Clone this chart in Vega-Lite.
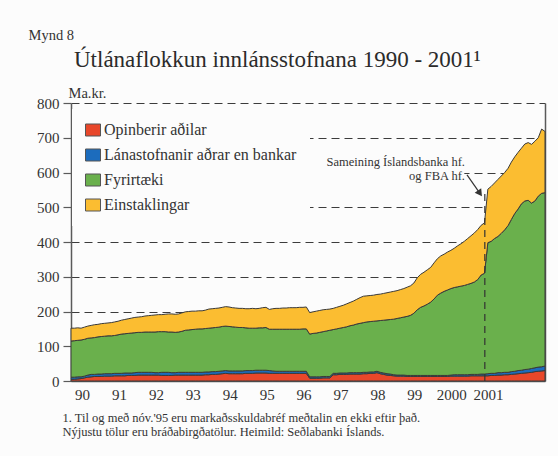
{
  "$schema": "https://vega.github.io/schema/vega-lite/v6.json",
  "width": 474,
  "height": 278,
  "autosize": {"type": "none"},
  "padding": {"left": 71, "top": 103, "right": 13, "bottom": 75},
  "background": "#fcfcfc",
  "config": {"view": {"stroke": null}, "font": "Liberation Serif"},
  "title": {
    "text": "Útlánaflokkun innlánsstofnana 1990 - 2001¹",
    "anchor": "start",
    "dx": 46,
    "offset": -45,
    "fontSize": 23,
    "font": "Liberation Serif",
    "fontWeight": "normal",
    "color": "#2b2b2b"
  },
  "datasets": {
    "d": [
      {"m":0,"o":5,"l":6,"f":104,"e":37},{"m":1,"o":5,"l":6,"f":105,"e":36},{"m":2,"o":6,"l":6,"f":105,"e":36},{"m":3,"o":7,"l":5,"f":106,"e":34},
      {"m":4,"o":9,"l":5,"f":106,"e":35},{"m":5,"o":11,"l":6,"f":106,"e":35},{"m":6,"o":12,"l":7,"f":105,"e":36},{"m":7,"o":13,"l":6,"f":106,"e":37},
      {"m":8,"o":13,"l":7,"f":107,"e":36},{"m":9,"o":13,"l":7,"f":108,"e":37},{"m":10,"o":14,"l":7,"f":108,"e":37},{"m":11,"o":14,"l":7,"f":109,"e":37},
      {"m":12,"o":14,"l":7,"f":109,"e":38},{"m":13,"o":15,"l":7,"f":109,"e":39},{"m":14,"o":15,"l":7,"f":111,"e":39},{"m":15,"o":15,"l":7,"f":113,"e":40},
      {"m":16,"o":15,"l":8,"f":113,"e":41},{"m":17,"o":16,"l":7,"f":114,"e":42},{"m":18,"o":16,"l":7,"f":115,"e":43},{"m":19,"o":16,"l":8,"f":115,"e":44},
      {"m":20,"o":17,"l":8,"f":115,"e":44},{"m":21,"o":17,"l":8,"f":115,"e":45},{"m":22,"o":17,"l":8,"f":116,"e":46},{"m":23,"o":17,"l":8,"f":116,"e":47},
      {"m":24,"o":17,"l":8,"f":116,"e":48},{"m":25,"o":17,"l":7,"f":117,"e":49},{"m":26,"o":17,"l":7,"f":118,"e":49},{"m":27,"o":16,"l":9,"f":117,"e":49},
      {"m":28,"o":16,"l":9,"f":117,"e":50},{"m":29,"o":16,"l":9,"f":116,"e":52},{"m":30,"o":16,"l":8,"f":117,"e":52},{"m":31,"o":17,"l":7,"f":116,"e":52},
      {"m":32,"o":17,"l":8,"f":116,"e":52},{"m":33,"o":17,"l":8,"f":118,"e":53},{"m":34,"o":17,"l":8,"f":121,"e":53},{"m":35,"o":17,"l":8,"f":122,"e":53},
      {"m":36,"o":17,"l":8,"f":123,"e":53},{"m":37,"o":17,"l":8,"f":124,"e":52},{"m":38,"o":17,"l":8,"f":125,"e":52},{"m":39,"o":17,"l":8,"f":125,"e":52},
      {"m":40,"o":18,"l":8,"f":125,"e":53},{"m":41,"o":18,"l":8,"f":126,"e":55},{"m":42,"o":19,"l":8,"f":126,"e":55},{"m":43,"o":19,"l":8,"f":127,"e":55},
      {"m":44,"o":20,"l":8,"f":127,"e":55},{"m":45,"o":21,"l":8,"f":128,"e":55},{"m":46,"o":22,"l":8,"f":128,"e":56},{"m":47,"o":21,"l":8,"f":128,"e":56},
      {"m":48,"o":21,"l":8,"f":127,"e":55},{"m":49,"o":21,"l":8,"f":126,"e":55},{"m":50,"o":21,"l":8,"f":125,"e":55},{"m":51,"o":21,"l":8,"f":125,"e":55},
      {"m":52,"o":22,"l":8,"f":123,"e":55},{"m":53,"o":22,"l":8,"f":122,"e":56},{"m":54,"o":22,"l":8,"f":122,"e":57},{"m":55,"o":23,"l":8,"f":121,"e":56},
      {"m":56,"o":23,"l":8,"f":122,"e":56},{"m":57,"o":23,"l":8,"f":122,"e":58},{"m":58,"o":23,"l":8,"f":123,"e":58},{"m":59,"o":22,"l":8,"f":119,"e":57},
      {"m":60,"o":22,"l":7,"f":120,"e":59},{"m":61,"o":22,"l":6,"f":121,"e":60},{"m":62,"o":22,"l":6,"f":121,"e":60},{"m":63,"o":22,"l":6,"f":121,"e":61},
      {"m":64,"o":22,"l":6,"f":121,"e":61},{"m":65,"o":22,"l":6,"f":121,"e":62},{"m":66,"o":22,"l":6,"f":121,"e":62},{"m":67,"o":22,"l":6,"f":121,"e":62},
      {"m":68,"o":22,"l":6,"f":121,"e":63},{"m":69,"o":22,"l":6,"f":122,"e":62},{"m":70,"o":22,"l":6,"f":122,"e":63},{"m":71,"o":8,"l":4,"f":123,"e":62},
      {"m":72,"o":8,"l":4,"f":125,"e":62},{"m":73,"o":8,"l":4,"f":126,"e":63},{"m":74,"o":8,"l":4,"f":128,"e":63},{"m":75,"o":9,"l":4,"f":129,"e":63},
      {"m":76,"o":9,"l":4,"f":131,"e":62},{"m":77,"o":9,"l":4,"f":133,"e":61},{"m":78,"o":18,"l":4,"f":126,"e":61},{"m":79,"o":18,"l":4,"f":128,"e":62},
      {"m":80,"o":19,"l":4,"f":129,"e":63},{"m":81,"o":19,"l":4,"f":131,"e":64},{"m":82,"o":19,"l":4,"f":133,"e":66},{"m":83,"o":20,"l":4,"f":135,"e":67},
      {"m":84,"o":20,"l":4,"f":137,"e":69},{"m":85,"o":20,"l":4,"f":140,"e":71},{"m":86,"o":20,"l":4,"f":142,"e":74},{"m":87,"o":21,"l":4,"f":143,"e":76},
      {"m":88,"o":21,"l":4,"f":145,"e":75},{"m":89,"o":22,"l":4,"f":145,"e":75},{"m":90,"o":22,"l":4,"f":146,"e":75},{"m":91,"o":24,"l":4,"f":145,"e":76},
      {"m":92,"o":21,"l":4,"f":149,"e":76},{"m":93,"o":19,"l":4,"f":152,"e":77},{"m":94,"o":17,"l":4,"f":155,"e":78},{"m":95,"o":16,"l":4,"f":157,"e":79},
      {"m":96,"o":15,"l":3,"f":160,"e":80},{"m":97,"o":14,"l":3,"f":163,"e":80},{"m":98,"o":14,"l":3,"f":165,"e":81},{"m":99,"o":14,"l":3,"f":167,"e":82},
      {"m":100,"o":13,"l":3,"f":170,"e":84},{"m":101,"o":13,"l":3,"f":173,"e":85},{"m":102,"o":13,"l":3,"f":179,"e":87},{"m":103,"o":13,"l":3,"f":189,"e":92},
      {"m":104,"o":13,"l":3,"f":196,"e":95},{"m":105,"o":13,"l":3,"f":200,"e":97},{"m":106,"o":13,"l":3,"f":205,"e":99},{"m":107,"o":13,"l":3,"f":211,"e":100},
      {"m":108,"o":13,"l":3,"f":220,"e":104},{"m":109,"o":13,"l":3,"f":231,"e":105},{"m":110,"o":13,"l":3,"f":237,"e":107},{"m":111,"o":13,"l":3,"f":242,"e":107},
      {"m":112,"o":13,"l":3,"f":246,"e":109},{"m":113,"o":14,"l":3,"f":249,"e":110},{"m":114,"o":14,"l":4,"f":251,"e":113},{"m":115,"o":14,"l":4,"f":253,"e":118},
      {"m":116,"o":14,"l":4,"f":255,"e":122},{"m":117,"o":14,"l":4,"f":257,"e":127},{"m":118,"o":14,"l":4,"f":260,"e":132},{"m":119,"o":15,"l":4,"f":262,"e":137},
      {"m":120,"o":15,"l":4,"f":266,"e":141},{"m":121,"o":15,"l":4,"f":273,"e":144},{"m":122,"o":15,"l":5,"f":285,"e":143},{"m":123,"o":15,"l":5,"f":290,"e":145},
      {"m":124,"o":15,"l":6,"f":377,"e":154},{"m":125,"o":16,"l":6,"f":380,"e":158},{"m":126,"o":16,"l":6,"f":388,"e":160},{"m":127,"o":17,"l":7,"f":392,"e":164},
      {"m":128,"o":17,"l":7,"f":401,"e":165},{"m":129,"o":18,"l":7,"f":410,"e":165},{"m":130,"o":18,"l":7,"f":422,"e":165},{"m":131,"o":19,"l":8,"f":438,"e":165},
      {"m":132,"o":20,"l":8,"f":454,"e":163},{"m":133,"o":21,"l":9,"f":465,"e":163},{"m":134,"o":22,"l":9,"f":479,"e":160},{"m":135,"o":23,"l":10,"f":485,"e":164},
      {"m":136,"o":24,"l":10,"f":486,"e":166},{"m":137,"o":25,"l":11,"f":476,"e":169},{"m":138,"o":27,"l":11,"f":480,"e":172},{"m":139,"o":28,"l":12,"f":492,"e":168},
      {"m":140,"o":29,"l":12,"f":499,"e":185},{"m":141,"o":30,"l":13,"f":499,"e":176}
    ],
    "one": [{}]
  },
  "layer": [
    {
      "data": {"name": "d"},
      "transform": [{"fold": ["o", "l", "f", "e"], "as": ["s", "v"]}],
      "mark": {"type": "area", "stroke": "#3a3a3a", "strokeWidth": 1, "strokeJoin": "round"},
      "encoding": {
        "x": {
          "field": "m", "type": "quantitative",
          "scale": {"domain": [0, 141], "nice": false, "zero": false},
          "axis": {
            "values": [3.3, 14.28, 25.26, 36.24, 47.22, 58.2, 69.18, 80.16, 91.14, 102.12, 113.1, 124.08],
            "labelExpr": "['90','91','92','93','94','95','96','97','98','99','2000','2001'][round((datum.value-3.3)/10.98)]",
            "ticks": false, "grid": false, "labelOverlap": false, "labelFlush": false,
            "domainColor": "#5a5a5a", "domainWidth": 1.5,
            "labelFont": "Liberation Serif", "labelFontSize": 15, "labelColor": "#333333", "labelPadding": 6,
            "title": ["1. Til og með nóv.'95 eru markaðsskuldabréf meðtalin en ekki eftir það.", "Nýjustu tölur eru bráðabirgðatölur.  Heimild: Seðlabanki Íslands."],
            "titleAnchor": "start", "titleAlign": "left", "titleBaseline": "alphabetic",
            "titleX": -9, "titleY": 40, "titleFont": "Liberation Serif", "titleFontSize": 12.5,
            "titleFontWeight": "normal", "titleColor": "#333333", "titleLineHeight": 14
          }
        },
        "y": {
          "field": "v", "type": "quantitative", "stack": "zero",
          "scale": {"domain": [0, 800], "nice": false},
          "axis": {
            "orient": "left",
            "values": [0, 100, 200, 300, 400, 500, 600, 700, 800],
            "grid": true, "gridDash": [8, 5], "gridColor": "#3c3c3c", "gridWidth": 1, "gridOpacity": 1,
            "domainColor": "#5a5a5a", "domainWidth": 1.5,
            "tickColor": "#5a5a5a", "tickSize": 8, "tickWidth": 1.2,
            "labelFont": "Liberation Serif", "labelFontSize": 15, "labelColor": "#333333", "labelPadding": 4,
            "title": "Ma.kr.", "titleAngle": 0, "titleAlign": "left", "titleBaseline": "alphabetic",
            "titleX": -3, "titleY": -6, "titleFont": "Liberation Serif", "titleFontSize": 14.5,
            "titleFontWeight": "normal", "titleColor": "#333333"
          }
        },
        "color": {
          "field": "s", "type": "nominal",
          "scale": {"domain": ["o", "l", "f", "e"], "range": ["#e8472a", "#1c6cbd", "#6ab04c", "#fbbd31"]},
          "legend": {
            "orient": "none", "legendX": 1, "legendY": 6, "direction": "vertical",
            "title": null, "fillColor": "#fcfcfc", "padding": 13,
            "symbolType": "M-1,-0.8H1V0.8H-1Z", "symbolSize": 225,
            "symbolStrokeColor": "#555555", "symbolStrokeWidth": 1,
            "labelFont": "Liberation Serif", "labelFontSize": 16, "labelColor": "#333333", "labelOffset": 3,
            "labelLimit": 400, "rowPadding": 9,
            "labelExpr": "datum.label == 'o' ? 'Opinberir aðilar' : datum.label == 'l' ? 'Lánastofnanir aðrar en bankar' : datum.label == 'f' ? 'Fyrirtæki' : 'Einstaklingar'"
          }
        },
        "order": {"field": "s", "sort": "descending"}
      }
    },
    {
      "data": {"name": "one"},
      "mark": {"type": "rule", "color": "#333333", "strokeWidth": 1.2, "strokeDash": [7, 5]},
      "encoding": {
        "x": {"datum": 123.1, "type": "quantitative"},
        "y": {
          "datum": 0, "type": "quantitative",
          "axis": {
            "orient": "right", "labels": false, "ticks": false, "grid": false,
            "domain": true, "domainColor": "#5a5a5a", "domainWidth": 1.5, "domainOpacity": 1,
            "title": "Mynd 8", "titleAngle": 0, "titleAlign": "left", "titleBaseline": "alphabetic",
            "titleX": -517, "titleY": -64, "titleFont": "Liberation Serif", "titleFontSize": 14.5,
            "titleFontWeight": "normal", "titleColor": "#333333"
          }
        },
        "y2": {"datum": 550}
      }
    },
    {
      "data": {"name": "one"},
      "mark": {"type": "rect", "color": "#fcfcfc"},
      "encoding": {
        "x": {"datum": 70, "type": "quantitative"},
        "x2": {"datum": 117},
        "y": {"datum": 590, "type": "quantitative", "axis": null},
        "y2": {"datum": 612}
      }
    },
    {
      "data": {"name": "one"},
      "mark": {
        "type": "text", "text": ["Sameining Íslandsbanka hf.", "og FBA hf."],
        "align": "right", "baseline": "alphabetic", "font": "Liberation Serif",
        "fontSize": 12.5, "lineHeight": 14, "color": "#333333"
      },
      "encoding": {
        "x": {"datum": 117.2, "type": "quantitative"},
        "y": {"datum": 619, "type": "quantitative", "axis": null}
      }
    },
    {
      "data": {"name": "one"},
      "mark": {"type": "rule", "color": "#333333", "strokeWidth": 1.2},
      "encoding": {
        "x": {"datum": 117.8, "type": "quantitative"},
        "x2": {"datum": 121.65},
        "y": {"datum": 593, "type": "quantitative", "axis": null},
        "y2": {"datum": 540}
      }
    },
    {
      "data": {"name": "one"},
      "mark": {"type": "point", "shape": "triangle-up", "filled": true, "color": "#333333", "size": 64, "angle": 144.5, "opacity": 1},
      "encoding": {
        "x": {"datum": 121.65, "type": "quantitative"},
        "y": {"datum": 540, "type": "quantitative", "axis": null}
      }
    }
  ],
  "resolve": {"axis": {"y": "independent"}}
}
